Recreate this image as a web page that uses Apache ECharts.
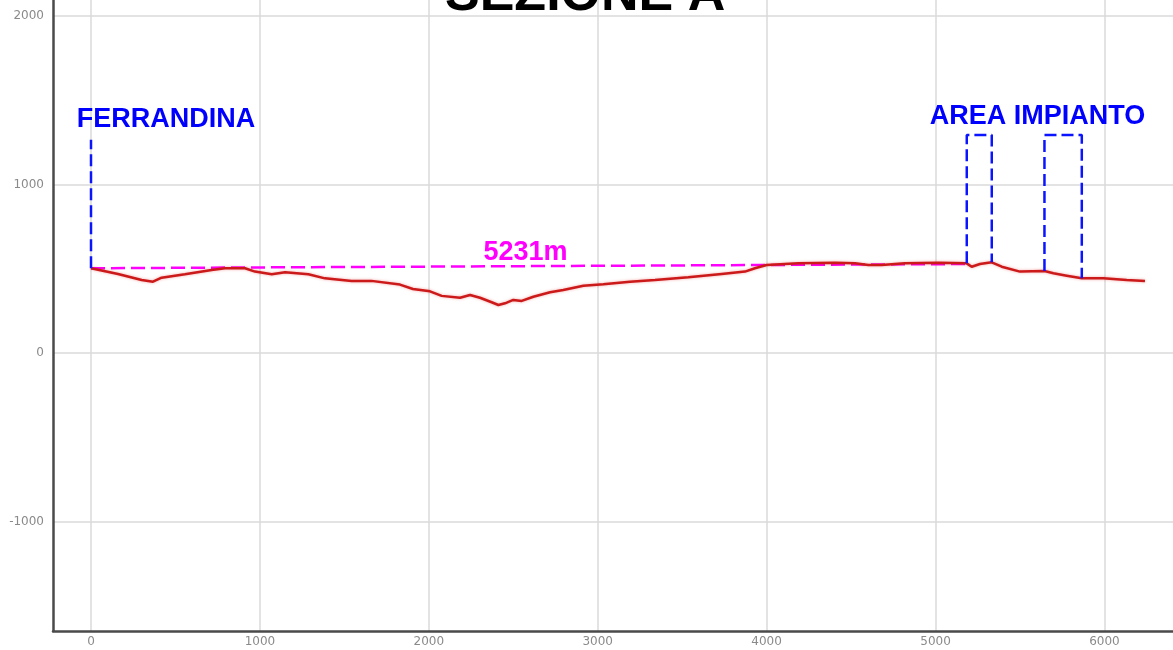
<!DOCTYPE html>
<html>
<head>
<meta charset="utf-8">
<script src="https://cdn.jsdelivr.net/npm/echarts@6/dist/echarts.min.js"></script>
<style>
  html, body { margin: 0; padding: 0; background: #fff; }
  #chart { width: 1173px; height: 650px; }
</style>
</head>
<body>
<div id="chart"></div>
<script>
// profilo altimetrico: distanza (m), quota (m s.l.m.)
const distanze = [0, 160, 300, 367, 418, 556, 714, 793, 912, 971, 1070, 1149, 1287, 1385, 1543, 1660,
  1829, 1906, 2007, 2076, 2185, 2244, 2303, 2372, 2412, 2451, 2500, 2550, 2619, 2718, 2796, 2915,
  3033, 3191, 3339, 3536, 3734, 3872, 3931, 4000, 4188, 4405, 4523, 4602, 4681, 4819, 5017,
  5185, 5214, 5263, 5333, 5392, 5500, 5645, 5698, 5777, 5866, 5994, 6132, 6240];
const quote = [503, 469, 433, 423, 447, 467, 493, 503, 503, 483, 467, 479, 467, 443, 427, 428,
  406, 380, 366, 339, 328, 344, 328, 301, 285, 295, 315, 309, 334, 360, 374, 399,
  408, 423, 433, 449, 469, 483, 503, 522, 532, 536, 532, 522, 522, 532, 536,
  532, 512, 528, 538, 512, 483, 487, 473, 459, 443, 443, 433, 427];

const xTicks = [0, 1000, 2000, 3000, 4000, 5000, 6000];
const yTicks = [-1000, 0, 1000, 2000];

// linea di distanza Ferrandina - area impianto
const distanzaLinea = [[0, 503], [5185, 528]];
const distanzaTesto = '5231m';

// riferimenti tratteggiati blu
const ferrandina = [[0, 503], [0, 1265]];
const impianto1 = [[5185, 532], [5185, 1294], [5333, 1294], [5333, 538]];
const impianto2 = [[5645, 487], [5645, 1294], [5866, 1294], [5866, 443]];

// etichette [x, y, testo]
const etichetteBlu = [[444, 1385, 'FERRANDINA'], [5604, 1405, 'AREA IMPIANTO']];
const etichetteMagenta = [[2573, 598, distanzaTesto]];

const chart = echarts.init(document.getElementById('chart'));

const dashedBlue = {
  color: '#0a14ff', width: 2.5, type: [12, 5]
};

function etichetta(colore) {
  return {
    show: true,
    position: 'inside',
    formatter: p => p.data[2],
    color: colore,
    opacity: 1,
    fontFamily: 'Liberation Sans',
    fontWeight: 'bold',
    fontSize: 27
  };
}

const option = {
  animation: false,
  title: {
    text: 'SEZIONE A',
    left: 440,
    top: -35,
    textStyle: {
      fontFamily: 'Liberation Sans',
      fontSize: 52,
      fontWeight: 'bold',
      color: '#000'
    }
  },
  grid: { left: 53, right: 0, top: 0, bottom: 19 },
  xAxis: {
    type: 'value',
    min: -225,
    max: 6406,
    axisLine: { show: true, onZero: false, lineStyle: { color: '#4a4a4a', width: 2.5 } },
    axisTick: { show: false, customValues: xTicks },
    axisLabel: {
      customValues: xTicks,
      formatter: v => String(v),
      margin: 5,
      color: '#8a8a8a',
      fontSize: 12,
      fontFamily: 'DejaVu Sans'
    },
    splitLine: { show: true, lineStyle: { color: '#dadada', width: 1.5 } }
  },
  yAxis: {
    type: 'value',
    min: -1650,
    max: 2095,
    axisLine: { show: true, onZero: false, lineStyle: { color: '#4a4a4a', width: 2.5 } },
    axisTick: { show: false, customValues: yTicks },
    axisLabel: {
      customValues: yTicks,
      formatter: v => String(v),
      margin: 9,
      color: '#8a8a8a',
      fontSize: 12,
      fontFamily: 'DejaVu Sans'
    },
    splitLine: { show: true, lineStyle: { color: '#dadada', width: 1.5 } }
  },
  series: [
    {
      type: 'line',
      data: distanzaLinea,
      symbol: 'none',
      lineStyle: { color: '#ff00ff', width: 2.5, type: [14, 6] },
      z: 3
    },
    {
      type: 'line',
      data: distanze.map((d, i) => [d, quote[i]]),
      symbol: 'none',
      lineStyle: { color: '#cc1a1a', width: 2.5, shadowColor: 'rgba(220,0,0,0.35)', shadowBlur: 3 },
      z: 4
    },
    { type: 'line', data: ferrandina, symbol: 'none', lineStyle: dashedBlue, z: 5 },
    { type: 'line', data: impianto1, symbol: 'none', lineStyle: dashedBlue, z: 5 },
    { type: 'line', data: impianto2, symbol: 'none', lineStyle: dashedBlue, z: 5 },
    {
      type: 'scatter',
      data: etichetteBlu,
      symbolSize: 0,
      itemStyle: { opacity: 1 },
      label: etichetta('#0000ff'),
      z: 6
    },
    {
      type: 'scatter',
      data: etichetteMagenta,
      symbolSize: 0,
      itemStyle: { opacity: 1 },
      label: etichetta('#ff00ff'),
      z: 6
    }
  ]
};

chart.setOption(option);
</script>
</body>
</html>
